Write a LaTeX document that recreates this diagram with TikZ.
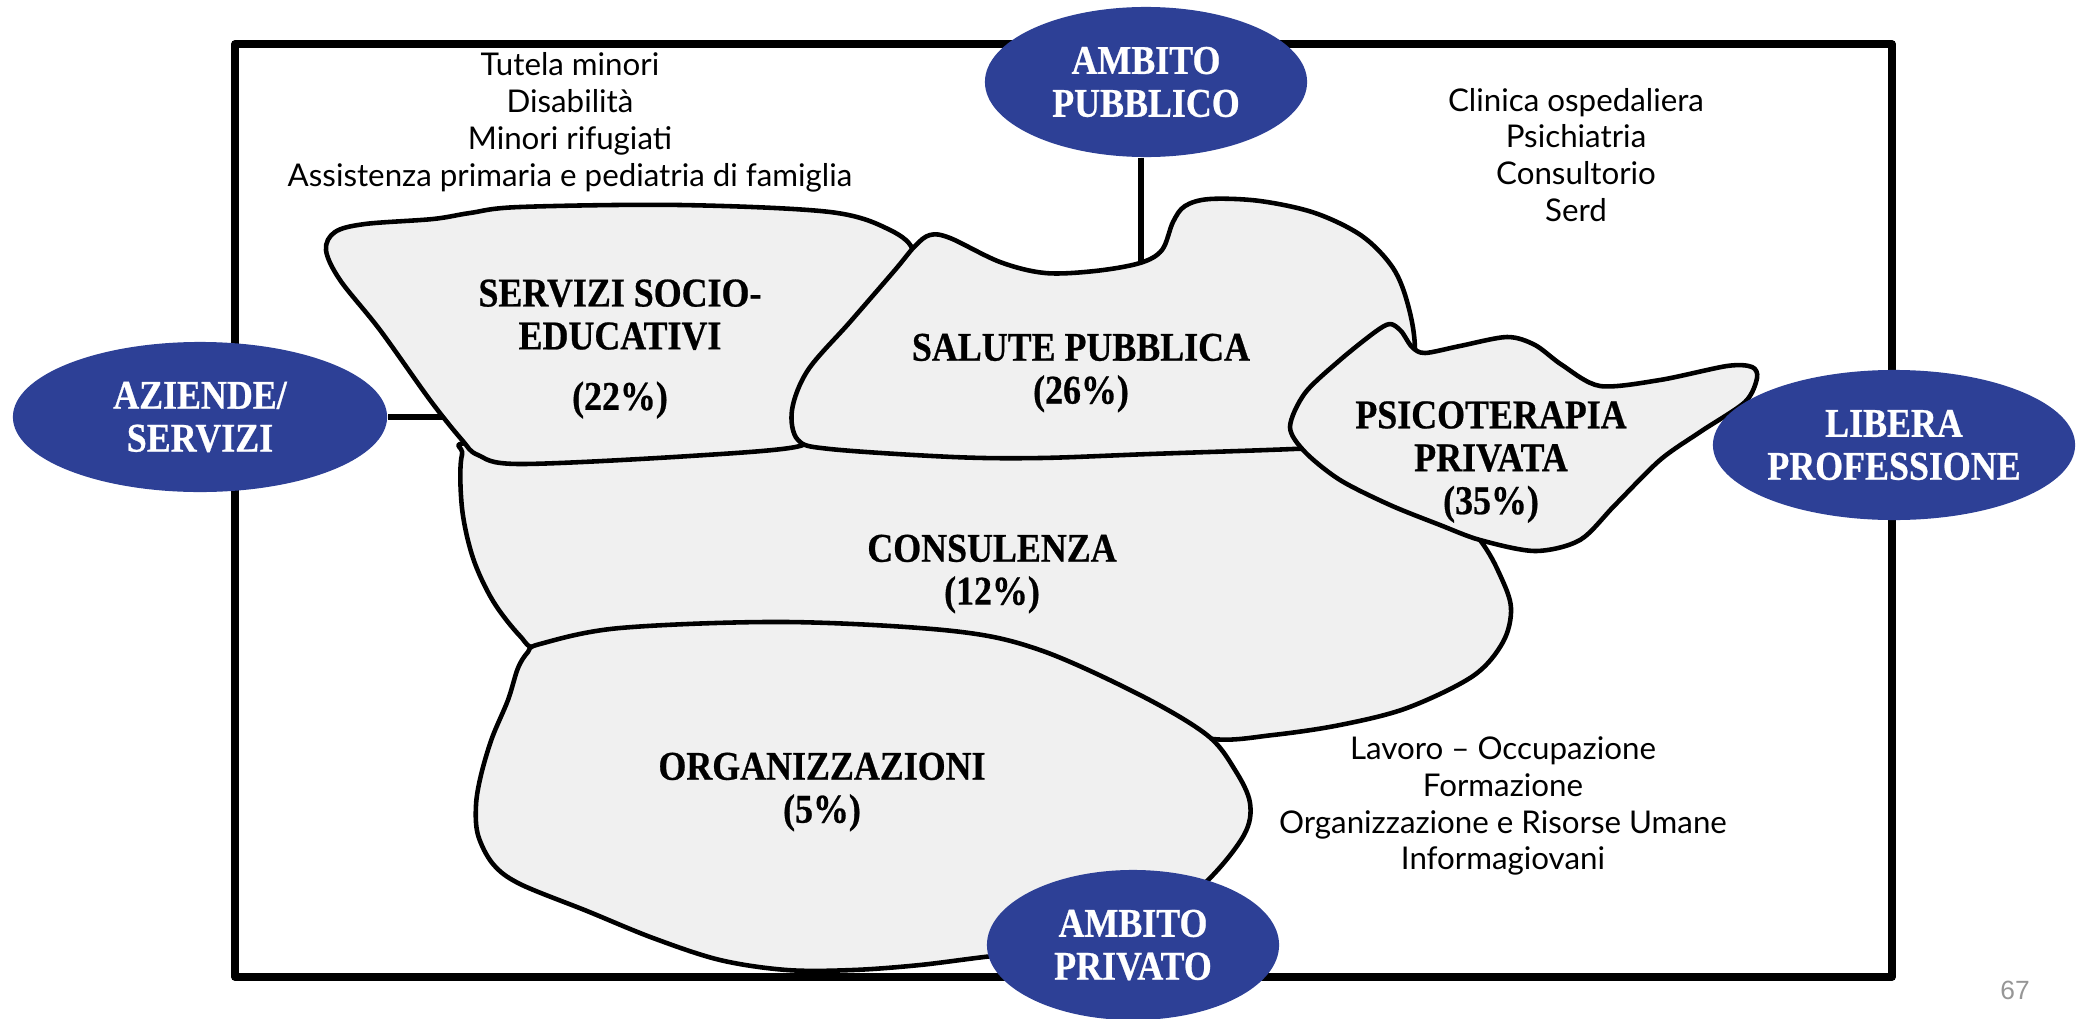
\documentclass[tikz,border=0pt]{standalone}
\usepackage{fontspec}
\setmainfont{Lato}
\newfontfamily\labfont{Liberation Serif}[FakeStretch=0.88,BoldFeatures={FakeBold=0.6}]
\newfontfamily\numfont{Liberation Sans}
\usetikzlibrary{shapes.geometric}
\definecolor{ovalblue}{RGB}{45,64,150}
\definecolor{blobgray}{RGB}{240,240,240}
\definecolor{pagegray}{RGB}{150,150,150}
\begin{document}
\begin{tikzpicture}[x=0.01cm,y=-0.01cm,
  boxline/.style={line width=2.1pt,line join=round},
  link/.style={line width=1.8pt},
  blob/.style={fill=blobgray,draw=black,line width=1.3pt,line join=round},
  oval/.style={ellipse,fill=ovalblue,text=white,inner sep=0pt,align=center,minimum height=1.5cm,
    font=\labfont\bfseries\fontsize{11.6}{12.2}\selectfont},
  lab/.style={inner sep=0pt,align=center,font=\labfont\bfseries\fontsize{11.6}{12.2}\selectfont},
  list/.style={inner sep=0pt,align=center,font=\fontsize{8.9}{10.5}\selectfont},
  pnum/.style={inner sep=0pt,text=pagegray,font=\numfont\fontsize{7.5}{8}\selectfont}]
\useasboundingbox (0,0) rectangle (2079,1018);

% frame
\draw[boxline] (235,44) rectangle (1892,977);

% connector end points
\coordinate (svleft) at (450,417);
\coordinate (sptop) at (1141,268);

% ovals
\node[oval,minimum width=3.74cm] (az) at (200,417) {AZIENDE/\\SERVIZI};
\node[oval,minimum width=3.22cm] (ap) at (1146,82) {AMBITO\\PUBBLICO};

% connectors
\draw[link] (az.east) -- (svleft);
\draw[link] (sptop |- ap.south) -- (sptop);

% consulenza
\draw[blob] plot[smooth cycle,tension=0.55] coordinates {
 (462,455) (480,442) (700,440) (1000,440) (1300,440) (1430,480) (1480,540)
 (1500,575) (1511,608) (1503,642) (1473,676) (1407,708) (1340,725) (1273,735)
 (1213,739) (1140,720) (953,665) (787,655) (620,660) (540,650) (520,636)
 (493,601) (473,558) (462,508)};
% organizzazioni
\draw[blob] plot[smooth cycle,tension=0.55] coordinates {
 (540,644) (620,628) (787,622) (953,631) (1040,650) (1140,695) (1207,735)
 (1235,770) (1250,803) (1244,835) (1207,881) (1150,925) (1080,948) (993,956)
 (920,965) (853,970) (787,970) (720,960) (653,938) (587,911) (520,884)
 (493,864) (478,835) (476,805) (481,775) (492,738) (508,700) (518,668) (528,652)};
% servizi socio-educativi
\draw[blob] plot[smooth cycle,tension=0.55] coordinates {
 (326,250) (335,232) (365,224) (433,219) (470,213) (520,207) (680,205)
 (830,212) (890,230) (913,252) (895,285) (850,340) (810,395) (793,428)
 (800,446) (690,456) (520,464) (478,455) (462,440) (430,400) (380,330) (340,280)};
% salute pubblica
\draw[blob] plot[smooth cycle,tension=0.55] coordinates {
 (915,246) (930,235) (950,238) (1000,262) (1045,273) (1095,271) (1140,263)
 (1162,250) (1173,222) (1185,206) (1210,199) (1260,201) (1315,213) (1362,236)
 (1393,268) (1408,305) (1415,350) (1410,420) (1360,445) (1293,449) (1150,454)
 (1040,458) (953,457) (830,449) (798,440) (792,410) (808,370) (850,322) (895,270)};
% psicoterapia privata
\draw[blob] plot[smooth cycle,tension=0.5] coordinates {
 (1290,427) (1305,393) (1340,360) (1375,332) (1390,324) (1401,331) (1412,347)
 (1425,353) (1460,346) (1507,337) (1535,345) (1562,365) (1600,386) (1660,380)
 (1727,366) (1752,367) (1757,378) (1745,402) (1700,432) (1660,460) (1615,505)
 (1580,540) (1535,551) (1480,540) (1440,525) (1390,505) (1340,480) (1305,452)};

% remaining ovals
\node[oval,minimum width=3.62cm] (lp) at (1894,445) {LIBERA\\PROFESSIONE};
\node[oval,minimum width=2.92cm] (apr) at (1133,945) {AMBITO\\PRIVATO};

% blob labels
\node[lab] (sv) at (620,349) {SERVIZI SOCIO-\\EDUCATIVI\\[5pt](22\%)};
\node[lab] (sp) at (1081,373) {SALUTE PUBBLICA\\(26\%)};
\node[lab] (ps) at (1491,462) {PSICOTERAPIA\\PRIVATA\\(35\%)};
\node[lab] (co) at (992,574) {CONSULENZA\\(12\%)};
\node[lab] (or) at (822,792) {ORGANIZZAZIONI\\(5\%)};

% lists
\node[list] (l1) at (570,122) {Tutela minori\\Disabilità\\Minori rifugiati\\Assistenza primaria e pediatria di famiglia};
\node[list] (l2) at (1576,155) {Clinica ospedaliera\\Psichiatria\\Consultorio\\Serd};
\node[list] (l3) at (1503,806) {Lavoro – Occupazione\\Formazione\\Organizzazione e Risorse Umane\\Informagiovani};

\node[pnum] (pg) at (2015,990) {67};
\end{tikzpicture}
\end{document}
